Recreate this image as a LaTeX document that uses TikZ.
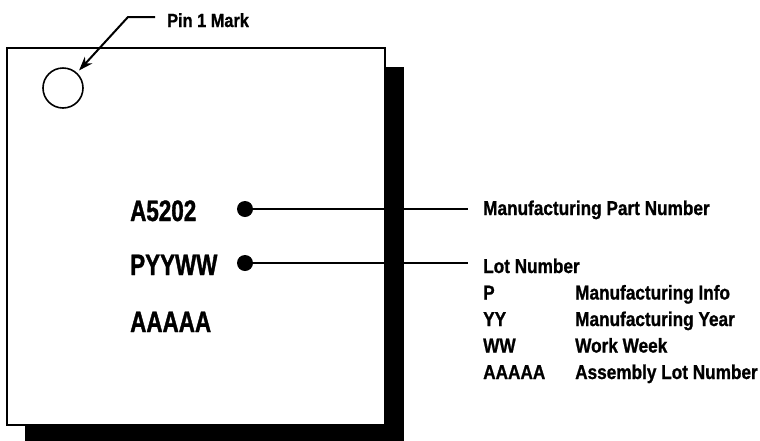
\documentclass[tikz,border=0pt]{standalone}
\usepackage{fontspec}
\setmainfont{Liberation Sans}
\newfontfamily\bigf{Liberation Sans}[FakeStretch=0.76,FakeBold=1.2]
\newfontfamily\smf{Liberation Sans}[FakeStretch=0.86,FakeBold=1]
\usetikzlibrary{arrows.meta}
\tikzset{
  bigtxt/.style={anchor=base west,inner sep=0pt,font=\bigf\bfseries\fontsize{29.5}{31}\selectfont},
  smtxt/.style={anchor=base west,inner sep=0pt,font=\smf\bfseries\fontsize{20}{22}\selectfont},
  dotnode/.style={circle,fill=black,inner sep=0pt,minimum size=16pt},
  leader/.style={line width=2pt},
}
\begin{document}
\begin{tikzpicture}[x=1pt,y=-1pt]
\useasboundingbox (0,0) rectangle (760,440);
% shadow and package
\fill[black] (25,67) rectangle (404,445);
\draw[fill=white,line width=1.5pt] (7,48) rectangle (385,425);
% pin 1 mark
\node[circle,draw,line width=1.6pt,minimum size=40pt,inner sep=0pt] (circ) at (63,88) {};
\node[smtxt,font=\smf\bfseries\fontsize{19}{21}\selectfont] (pin) at (167,27) {Pin 1 Mark};
\coordinate (pinend) at (155,17);
\coordinate (pinbend) at (128,17);
\draw[leader,-{Stealth[length=14pt,width=10pt]},shorten >=3pt] (pinend) -- (pinbend) -- (circ);
% marking text
\node[bigtxt] (t1) at (130,221) {A5202};
\node[bigtxt] (t2) at (130,275) {PYYWW};
\node[bigtxt] (t3) at (130,332) {AAAAA};
% dots and leaders
\node[dotnode] (d1) at (245,209) {};
\node[dotnode] (d2) at (245,263) {};
\coordinate (e1) at (468,209);
\coordinate (e2) at (468,263);
\draw[leader] (d1) -- (e1);
\draw[leader] (d2) -- (e2);
% right descriptions
\node[smtxt] (r1) at (483,215) {Manufacturing Part Number};
\node[smtxt] (r2) at (483,273) {Lot Number};
\node[smtxt] (k1) at (483,299.5) {P};
\node[smtxt] (v1) at (575,299.5) {Manufacturing Info};
\node[smtxt] (k2) at (483,326) {YY};
\node[smtxt] (v2) at (575,326) {Manufacturing Year};
\node[smtxt] (k3) at (483,352.5) {WW};
\node[smtxt] (v3) at (575,352.5) {Work Week};
\node[smtxt] (k4) at (483,379) {AAAAA};
\node[smtxt] (v4) at (575,379) {Assembly Lot Number};
\end{tikzpicture}
\end{document}
